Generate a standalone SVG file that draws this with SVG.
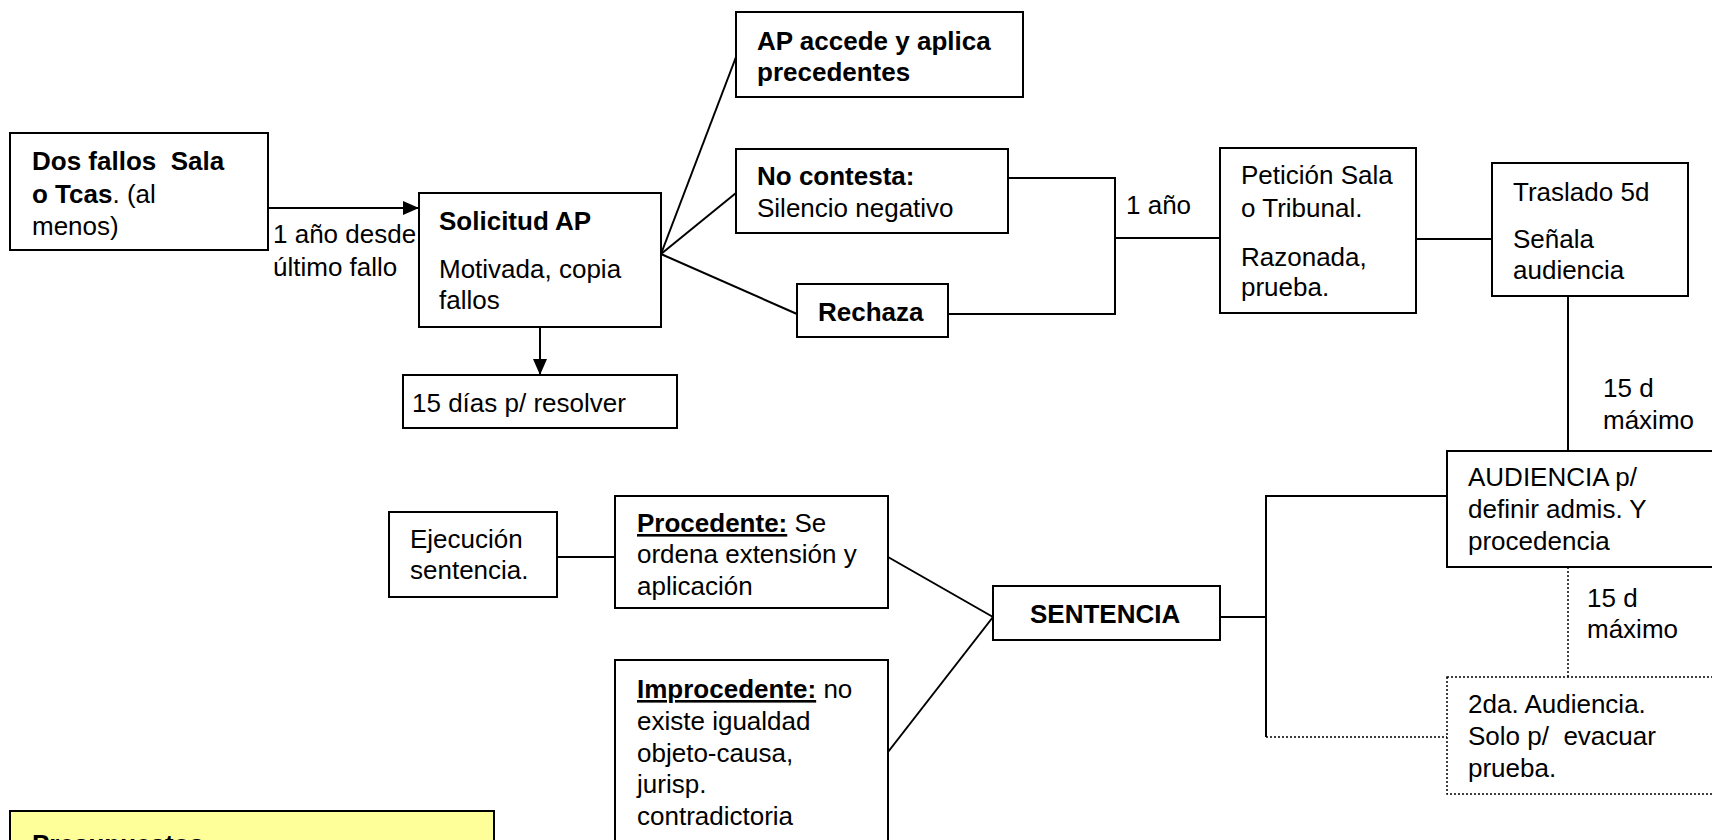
<svg xmlns="http://www.w3.org/2000/svg" width="1712" height="840" viewBox="0 0 1712 840">
<defs>
<marker id="arr" viewBox="0 0 16 14" refX="16" refY="7" markerWidth="16" markerHeight="14" markerUnits="userSpaceOnUse" orient="auto">
<path d="M0,0 L16,7 L0,14 Z" fill="#000"/>
</marker>
<style>
text{font-family:"Liberation Sans",Arial,sans-serif;font-size:26px;fill:#000;white-space:pre}
.b{font-weight:bold}
.u{text-decoration:underline}
.box{fill:#fff;stroke:#000;stroke-width:2}
.dbox{fill:#fff;stroke:#000;stroke-width:1.5;stroke-dasharray:2,2}
.ybox{fill:#FFFF99;stroke:#000;stroke-width:2}
.ln{fill:none;stroke:#000;stroke-width:2}
.dl{fill:none;stroke:#000;stroke-width:1.5;stroke-dasharray:2,2}
</style>
</defs>
<rect width="1712" height="840" fill="#fff"/>
<g id="connectors">
<line class="ln" x1="268" y1="208" x2="419" y2="208" marker-end="url(#arr)"/>
<line class="ln" x1="540" y1="327" x2="540" y2="375" marker-end="url(#arr)"/>
<line class="ln" x1="661" y1="254" x2="736" y2="57"/>
<line class="ln" x1="661" y1="254" x2="736" y2="193"/>
<line class="ln" x1="661" y1="254" x2="797" y2="314"/>
<polyline class="ln" points="1008,178 1115,178 1115,314 948,314"/>
<line class="ln" x1="1115" y1="238" x2="1220" y2="238"/>
<line class="ln" x1="1416" y1="239" x2="1492" y2="239"/>
<line class="ln" x1="1568" y1="296" x2="1568" y2="451"/>
<line class="dl" x1="1568" y1="567" x2="1568" y2="677"/>
<line class="ln" x1="557" y1="557" x2="615" y2="557"/>
<line class="ln" x1="888" y1="557" x2="993" y2="617"/>
<line class="ln" x1="888" y1="752" x2="993" y2="617"/>
<line class="ln" x1="1220" y1="617" x2="1266" y2="617"/>
<polyline class="ln" points="1447,496 1266,496 1266,737"/>
<line class="dl" x1="1266" y1="737" x2="1447" y2="737"/>
<text x="273" y="243">1 año desde</text>
<text x="273" y="276">último fallo</text>
<text x="1126" y="214">1 año</text>
<text x="1603" y="397">15 d</text>
<text x="1603" y="429">máximo</text>
<text x="1587" y="607">15 d</text>
<text x="1587" y="638">máximo</text>
</g>
<g id="dos-fallos">
<rect class="box" x="10" y="133" width="258" height="117"/>
<text x="32" y="170" class="b">Dos fallos  Sala</text>
<text x="32" y="203"><tspan class="b">o Tcas</tspan>. (al</text>
<text x="32" y="235">menos)</text>
</g>
<g id="solicitud">
<rect class="box" x="419" y="193" width="242" height="134"/>
<text x="439" y="230" class="b">Solicitud AP</text>
<text x="439" y="278">Motivada, copia</text>
<text x="439" y="309">fallos</text>
</g>
<g id="quince-dias">
<rect class="box" x="403" y="375" width="274" height="53"/>
<text x="412" y="412">15 días p/ resolver</text>
</g>
<g id="ap-accede">
<rect class="box" x="736" y="12" width="287" height="85"/>
<text x="757" y="50" class="b">AP accede y aplica</text>
<text x="757" y="81" class="b">precedentes</text>
</g>
<g id="no-contesta">
<rect class="box" x="736" y="149" width="272" height="84"/>
<text x="757" y="185" class="b">No contesta:</text>
<text x="757" y="217">Silencio negativo</text>
</g>
<g id="rechaza">
<rect class="box" x="797" y="284" width="151" height="53"/>
<text x="818" y="321" class="b">Rechaza</text>
</g>
<g id="peticion">
<rect class="box" x="1220" y="148" width="196" height="165"/>
<text x="1241" y="184">Petición Sala</text>
<text x="1241" y="217">o Tribunal.</text>
<text x="1241" y="266">Razonada,</text>
<text x="1241" y="296">prueba.</text>
</g>
<g id="traslado">
<rect class="box" x="1492" y="163" width="196" height="133"/>
<text x="1513" y="201">Traslado 5d</text>
<text x="1513" y="248">Señala</text>
<text x="1513" y="279">audiencia</text>
</g>
<g id="audiencia">
<rect class="box" x="1447" y="451" width="280" height="116"/>
<text x="1468" y="486">AUDIENCIA p/</text>
<text x="1468" y="518">definir admis. Y</text>
<text x="1468" y="550">procedencia</text>
</g>
<g id="segunda-audiencia">
<rect class="dbox" x="1447" y="677" width="280" height="117"/>
<text x="1468" y="713">2da. Audiencia.</text>
<text x="1468" y="745">Solo p/  evacuar</text>
<text x="1468" y="777">prueba.</text>
</g>
<g id="sentencia">
<rect class="box" x="993" y="586" width="227" height="54"/>
<text x="1030" y="623" class="b">SENTENCIA</text>
</g>
<g id="procedente">
<rect class="box" x="615" y="496" width="273" height="112"/>
<text x="637" y="532"><tspan class="b u">Procedente:</tspan> Se</text>
<text x="637" y="563">ordena extensión y</text>
<text x="637" y="595">aplicación</text>
</g>
<g id="improcedente">
<rect class="box" x="615" y="660" width="273" height="200"/>
<text x="637" y="698"><tspan class="b u">Improcedente:</tspan> no</text>
<text x="637" y="730">existe igualdad</text>
<text x="637" y="762">objeto-causa,</text>
<text x="637" y="793">jurisp.</text>
<text x="637" y="825">contradictoria</text>
</g>
<g id="ejecucion">
<rect class="box" x="389" y="512" width="168" height="85"/>
<text x="410" y="548">Ejecución</text>
<text x="410" y="579">sentencia.</text>
</g>
<g id="presupuestos">
<rect class="ybox" x="10" y="811" width="484" height="60"/>
<text x="32" y="853" class="b">Presupuestos:</text>
</g>
</svg>
